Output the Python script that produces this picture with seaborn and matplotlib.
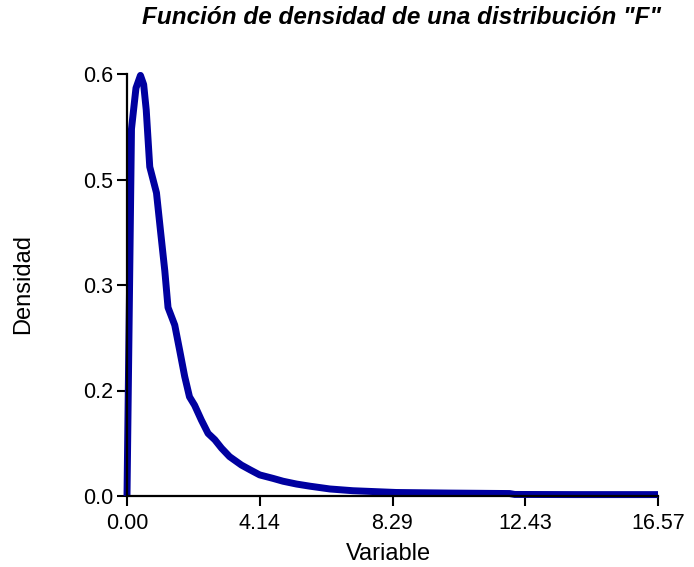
import matplotlib
matplotlib.use("Agg")
import matplotlib.pyplot as plt
import seaborn as sns
import pandas as pd

# Data
variable = [0.0, 0.14, 0.28, 0.42, 0.52, 0.60, 0.71, 0.92, 1.05, 1.18, 1.28, 1.49,
            1.64, 1.80, 1.95, 2.11, 2.32, 2.53, 2.74, 2.95, 3.20, 3.57, 3.85, 4.14,
            4.56, 4.87, 5.29, 5.70, 6.33, 7.05, 8.40, 10.00, 11.94, 12.10, 14.00,
            16.57]
densidad = [0.0, 0.522, 0.580, 0.598, 0.585, 0.549, 0.468, 0.431, 0.375, 0.320,
            0.268, 0.243, 0.208, 0.170, 0.141, 0.129, 0.108, 0.089, 0.080, 0.068,
            0.056, 0.044, 0.037, 0.030, 0.025, 0.021, 0.017, 0.014, 0.010, 0.0075,
            0.0050, 0.0042, 0.0035, 0.0022, 0.0020, 0.0020]

xtick_values = [0.0, 4.1425, 8.285, 12.4275, 16.57]
xtick_labels = ["0.00", "4.14", "8.29", "12.43", "16.57"]
ytick_values = [0.0, 0.15, 0.30, 0.45, 0.60]
ytick_labels = ["0.0", "0.2", "0.3", "0.5", "0.6"]

title = 'Función de densidad de una distribución "F"'
xlabel = "Variable"
ylabel = "Densidad"

sns.set_style("ticks")
plt.rcParams["font.family"] = ["Liberation Sans", "DejaVu Sans"]
plt.rcParams["text.color"] = "black"

df = pd.DataFrame({"Variable": variable, "Densidad": densidad})

fig = plt.figure(figsize=(6.94, 5.67), dpi=100)
ax = fig.add_axes([127 / 694, 1 - 496 / 567, (658 - 127) / 694, (496 - 74) / 567])

sns.lineplot(data=df, x="Variable", y="Densidad", ax=ax, color="#0000A0",
             linewidth=5, sort=False, estimator=None, clip_on=False,
             solid_joinstyle="round", solid_capstyle="butt")

ax.set_xlim(0, 16.57)
ax.set_ylim(0, 0.6)
ax.set_xticks(xtick_values)
ax.set_xticklabels(xtick_labels)
ax.set_yticks(ytick_values)
ax.set_yticklabels(ytick_labels)
ax.tick_params(axis="both", labelsize=15.5, length=7, width=1.5, color="black",
               labelcolor="black", pad=3)
ax.tick_params(axis="x", pad=5)
for s in ["left", "bottom"]:
    ax.spines[s].set_linewidth(1.6)
    ax.spines[s].set_color("black")
sns.despine(ax=ax)

ax.set_xlabel("")
ax.set_ylabel("")
fig.text(388 / 694, 1 - 554 / 567, xlabel, ha="center", va="center", fontsize=17,
         color="black")
fig.text(23 / 694, 1 - 284 / 567, ylabel, ha="center", va="center", fontsize=17,
         rotation=90, color="black")
fig.text(402 / 694, 1 - 18 / 567, title, ha="center", va="center", fontsize=17.5,
         fontweight="bold", fontstyle="italic", color="black")

fig.savefig("out.png", dpi=100)
